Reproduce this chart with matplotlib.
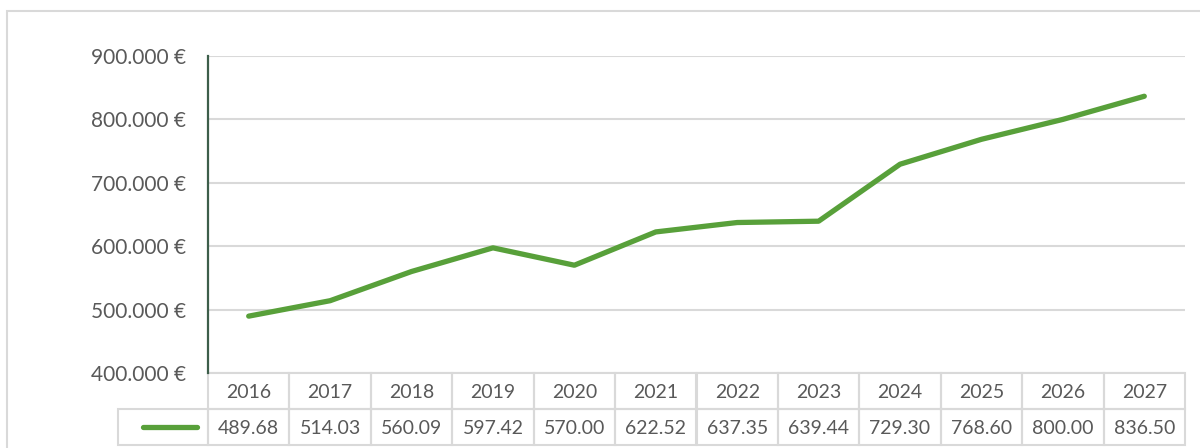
import numpy as np
import matplotlib.pyplot as plt
from matplotlib.patches import Rectangle
from matplotlib.lines import Line2D
from matplotlib.transforms import blended_transform_factory
from matplotlib.ticker import FuncFormatter

plt.rcParams['font.family'] = ['Lato', 'DejaVu Sans']

# data (values in thousand €)
years = ['2016', '2017', '2018', '2019', '2020', '2021',
         '2022', '2023', '2024', '2025', '2026', '2027']
values = [489.68, 514.03, 560.09, 597.42, 570.00, 622.52,
          637.35, 639.44, 729.30, 768.60, 800.00, 836.50]
y_ticks = [400, 500, 600, 700, 800, 900]

LINE_COLOR = '#58A03A'
GRID_COLOR = '#D9D9D9'
TEXT_COLOR = '#595959'

W, H = 1200, 448
fig = plt.figure(figsize=(W / 100, H / 100), dpi=100)

# outer chart frame
fig.patches.append(Rectangle((7 / W, -0.1), 1.2, 1 - 11 / H + 0.1,
                             transform=fig.transFigure, fill=False,
                             edgecolor=GRID_COLOR, linewidth=1.5))

left, right = 208 / W, 1185 / W
bottom, top = 1 - 373 / H, 1 - 56 / H
ax = fig.add_axes([left, bottom, right - left, top - bottom])

x = np.arange(len(years))
ax.plot(x, values, color=LINE_COLOR, linewidth=3.8, solid_capstyle='round', zorder=3)

ax.set_xlim(-0.5, len(years) - 0.5)
ax.set_ylim(y_ticks[0], y_ticks[-1])
ax.set_yticks(y_ticks)
ax.yaxis.set_major_formatter(FuncFormatter(
    lambda v, p: f"{int(round(v * 1000)):,} €".replace(',', '.')))
ax.set_xticks([])
ax.tick_params(axis='y', length=0, pad=16, labelsize=15, labelcolor=TEXT_COLOR)
ax.grid(axis='y', color=GRID_COLOR, linewidth=1.5)
ax.set_axisbelow(True)
for s in ['top', 'right', 'bottom']:
    ax.spines[s].set_visible(False)
ax.spines['left'].set_color('#3D5E4A')
ax.spines['left'].set_linewidth(1.6)
ax.spines['left'].set_zorder(4)

# data table under the axis: x in data units (one column per year), y in axes units
trans = blended_transform_factory(ax.transData, ax.transAxes)
ax_h_px = (top - bottom) * H
row_h = 36 / ax_h_px
key_w = 90 / ((right - left) * W / len(years))   # key column width in column units


def cell(x0, y0, w, txt=''):
    ax.add_patch(Rectangle((x0, y0), w, row_h, transform=trans, fill=False,
                           edgecolor=GRID_COLOR, linewidth=1.5, clip_on=False))
    if txt:
        ax.text(x0 + w / 2, y0 + row_h / 2, txt, transform=trans, ha='center',
                va='center_baseline', fontsize=14, color=TEXT_COLOR, clip_on=False)


for j, (yr, v) in enumerate(zip(years, values)):
    cell(j - 0.5, -row_h, 1, yr)
    cell(j - 0.5, -2 * row_h, 1, f"{v:.2f}")
cell(-0.5 - key_w, -2 * row_h, key_w)

# legend key in the first cell of the value row
ax.add_line(Line2D([-0.5 - key_w * 0.72, -0.5 - key_w * 0.12], [-1.5 * row_h] * 2,
                   transform=trans, color=LINE_COLOR, linewidth=3.8,
                   solid_capstyle='round', clip_on=False))

fig.savefig('out.png', dpi=100)
